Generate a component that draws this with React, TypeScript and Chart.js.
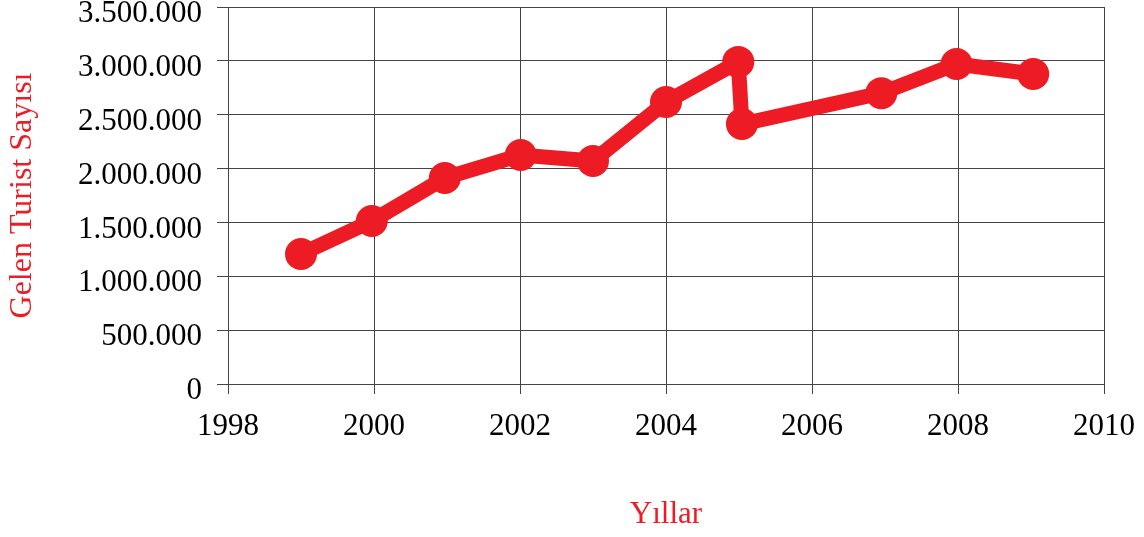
import React, { useEffect, useRef } from "react";
import { Chart, registerables } from "chart.js";

Chart.register(...registerables);

// Data
const years = [1999, 1999.97, 2000.97, 2002.01, 2003.0, 2004.0, 2004.99, 2005.04, 2006.95, 2007.98, 2009.03];
const tourists = [1207000, 1513000, 1913000, 2126000, 2070000, 2618000, 2990000, 2414000, 2700000, 2971000, 2878000];
const xTickValues = [1998, 2000, 2002, 2004, 2006, 2008, 2010];
const yTickValues = [0, 500000, 1000000, 1500000, 2000000, 2500000, 3000000, 3500000];
const xTitle = "Yıllar";
const yTitle = "Gelen Turist Sayısı";

const RED = "#ED1C24";
const GRID = "#444444";
const FONT = "'Liberation Serif', 'Times New Roman', serif";

const fmtThousands = (v: number) =>
  Math.round(v).toString().replace(/\B(?=(\d{3})+(?!\d))/g, ".");

export default function App() {
  const ref = useRef<HTMLCanvasElement | null>(null);

  useEffect(() => {
    if (!ref.current) return;
    const chart = new Chart(ref.current, {
      type: "line",
      data: {
        datasets: [
          {
            data: years.map((x, i) => ({ x, y: tourists[i] })),
            borderColor: RED,
            backgroundColor: RED,
            borderWidth: 15,
            pointRadius: 16,
            pointHoverRadius: 16,
            pointBackgroundColor: RED,
            pointBorderColor: RED,
            pointBorderWidth: 0,
            tension: 0,
            fill: false,
            clip: false as any,
          },
        ],
      },
      options: {
        animation: false,
        responsive: false,
        events: [],
        layout: { autoPadding: false, padding: { top: 7, right: 40, left: 0, bottom: 0 } },
        plugins: { legend: { display: false }, tooltip: { enabled: false } },
        scales: {
          x: {
            type: "linear",
            min: 1998,
            max: 2010,
            afterBuildTicks: (scale: any) => {
              scale.ticks = xTickValues.map((v) => ({ value: v }));
            },
            afterFit: (scale: any) => {
              scale.height = 153;
              scale.paddingLeft = 0;
              scale.paddingRight = 0;
            },
            grid: { color: GRID, lineWidth: 1, tickLength: 10, drawTicks: true },
            border: { color: GRID, width: 1 },
            ticks: {
              color: "#000",
              font: { family: FONT, size: 31 },
              padding: 14,
              maxRotation: 0,
              autoSkip: false,
              callback: (v: any) => String(v),
            },
            title: {
              display: true,
              text: xTitle,
              color: RED,
              font: { family: FONT, size: 31 },
              padding: { top: 0, bottom: 4 },
            },
          },
          y: {
            type: "linear",
            min: 0,
            max: 3500000,
            afterBuildTicks: (scale: any) => {
              scale.ticks = yTickValues.map((v) => ({ value: v }));
            },
            afterFit: (scale: any) => {
              scale.width = 228;
              scale.paddingTop = 0;
              scale.paddingBottom = 0;
            },
            grid: { color: GRID, lineWidth: 1, tickLength: 11, drawTicks: true },
            border: { color: GRID, width: 1 },
            ticks: {
              color: "#000",
              font: { family: FONT, size: 31 },
              padding: 15,
              labelOffset: 7,
              autoSkip: false,
              callback: (v: any) => fmtThousands(Number(v)),
            },
            title: {
              display: true,
              text: yTitle,
              color: RED,
              font: { family: FONT, size: 32 },
              padding: { top: 3, bottom: 0 },
            },
          },
        },
      },
    } as any);
    return () => chart.destroy();
  }, []);

  return (
    <canvas
      ref={ref}
      width={1144}
      height={537}
      style={{ position: "fixed", left: 0, top: 0, display: "block", background: "#fff" }}
    />
  );
}
